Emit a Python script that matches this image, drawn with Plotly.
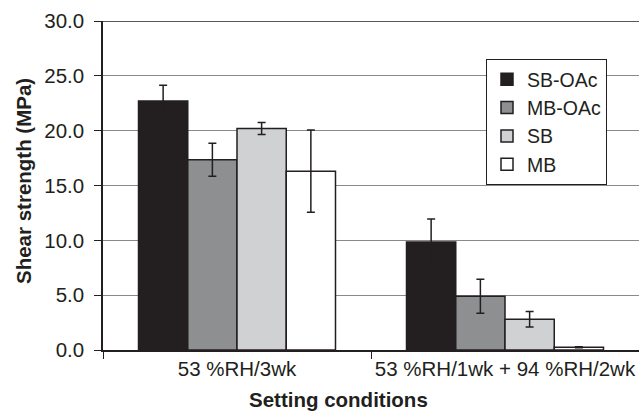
import plotly.graph_objects as go

categories = ["53 %RH/3wk", "53 %RH/1wk + 94 %RH/2wk"]
series_names = ["SB-OAc", "MB-OAc", "SB", "MB"]
sb_oac = [22.7, 9.85]
mb_oac = [17.35, 4.9]
sb = [20.2, 2.8]
mb = [16.3, 0.25]
sb_oac_err = [1.45, 2.1]
mb_oac_err = [1.5, 1.55]
sb_err = [0.55, 0.7]
mb_err = [3.75, 0.05]
y_ticks = [0, 5, 10, 15, 20, 25, 30]
y_tick_labels = ["0.0", "5.0", "10.0", "15.0", "20.0", "25.0", "30.0"]

values = [sb_oac, mb_oac, sb, mb]
errors = [sb_oac_err, mb_oac_err, sb_err, mb_err]
colors = ["#231f20", "#8e8f91", "#d0d1d3", "#ffffff"]

FONT = "Arial, Liberation Sans, sans-serif"
DARK = "#231f20"
FS = 20.5

fig = go.Figure()
for name, v, e, c in zip(series_names, values, errors, colors):
    fig.add_trace(go.Bar(
        name=name, x=categories, y=v,
        marker=dict(color=c, line=dict(color=DARK, width=1.5)),
        error_y=dict(type="data", array=e, visible=True, color=DARK, thickness=1.5, width=4),
    ))

fig.update_layout(
    width=639, height=414,
    margin=dict(l=103, r=0, t=21, b=64, autoexpand=False),
    paper_bgcolor="white", plot_bgcolor="white",
    barmode="group", bargap=0.265, bargroupgap=0,
    font=dict(family=FONT, size=FS, color=DARK),
    legend=dict(
        x=(486 - 103) / 536, y=(350 - 59) / 329, xanchor="left", yanchor="top",
        bgcolor="white", bordercolor=DARK, borderwidth=1,
        font=dict(family=FONT, size=19.5, color=DARK),
        itemwidth=30, tracegroupgap=0,
    ),
    showlegend=True,
)
fig.update_xaxes(
    showline=True, linecolor=DARK, linewidth=1.5, mirror=False,
    ticks="outside", tickson="boundaries", ticklen=7, tickcolor=DARK,
    range=[-0.5, 1.5], showgrid=False, tickangle=0, automargin=False,
    tickfont=dict(family=FONT, size=FS, color=DARK),
)
fig.update_yaxes(
    range=[0, 30], tickvals=y_ticks, ticktext=y_tick_labels,
    showline=True, linecolor=DARK, linewidth=1.5,
    ticks="outside", ticklen=7, tickcolor=DARK,
    showgrid=True, gridcolor="#8a8a8a", gridwidth=1,
    zeroline=False, automargin=False,
    tickfont=dict(family=FONT, size=FS, color=DARK),
    ticklabelstandoff=6,
)
fig.add_hline(y=30, line=dict(color=DARK, width=1.5))

fig.add_annotation(text="<b>Setting conditions</b>", xref="paper", yref="paper",
                   x=(338 - 103) / 536, y=(350 - 413) / 329, xanchor="center", yanchor="bottom",
                   showarrow=False, font=dict(family=FONT, size=FS, color=DARK))
fig.add_annotation(text="<b>Shear strength (MPa)</b>", xref="paper", yref="paper",
                   x=(24 - 103) / 536, y=(350 - 181) / 329, xanchor="center", yanchor="middle",
                   textangle=-90, showarrow=False, font=dict(family=FONT, size=FS, color=DARK))

fig.write_html("out.html")
